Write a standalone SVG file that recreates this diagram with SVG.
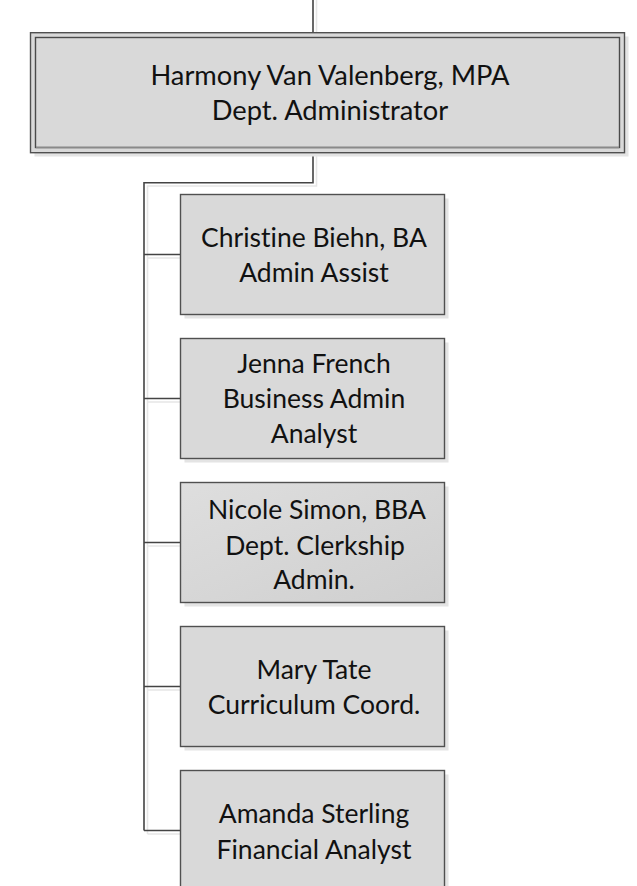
<svg xmlns="http://www.w3.org/2000/svg" width="637" height="886" viewBox="0 0 637 886">
<defs>
<linearGradient id="g1" x1="0" y1="0" x2="1" y2="1">
<stop offset="0" stop-color="#dedede"/>
<stop offset="1" stop-color="#cfcfcf"/>
</linearGradient>
</defs>
<style>
.bg{fill:#ffffff}
.sh{fill:#e4e4e4}
.box{fill:#d9d9d9;stroke:#505050;stroke-width:1.4}
.in{fill:#d9d9d9;stroke:#4a4a4a;stroke-width:1.4}
.ln{fill:none;stroke:#444444;stroke-width:1.6}
.lsh{fill:none;stroke:#e6e6e6;stroke-width:1.6}
.t{font-family:Lato,"Open Sans","Liberation Sans",sans-serif;font-size:26.5px;fill:#111111;text-anchor:middle;font-variant-ligatures:none}
.tt{font-size:27.3px}
</style>
<rect class="bg" x="0" y="0" width="637" height="886"/>
<g id="connectors">
<path class="lsh" d="M316.5,0 V33 M316.5,156 V186 H147.5 V834 M147.5,258 H184 M147.5,402 H184 M147.5,546 H184 M147.5,690 H184 M147.5,834 H184"/>
<path class="ln" d="M313,0 V33 M313,153 V182.7 H144 V830.5 M144,254.5 H181 M144,398.5 H181 M144,542.5 H181 M144,686.5 H181 M144,830.5 H181"/>
</g>
<g id="n0">
<rect class="sh" x="34.5" y="36.5" width="594" height="120"/>
<rect class="box" x="30.5" y="32.7" width="594" height="120"/>
<rect class="in" x="35.5" y="37.5" width="584" height="110"/>
<line x1="36" y1="147.5" x2="619" y2="147.5" stroke="#8a8a8a" stroke-width="1.4"/>
<text class="t tt" x="330" y="84.5">Harmony Van Valenberg, MPA</text>
<text class="t tt" x="330" y="119.5">Dept. Administrator</text>
</g>
<g id="n1">
<rect class="sh" x="184.5" y="198.5" width="264" height="120"/>
<rect class="box" x="180.5" y="194.5" width="264" height="120"/>
<text class="t" x="314" y="246.5">Christine Biehn, BA</text>
<text class="t" x="314" y="281.5">Admin Assist</text>
</g>
<g id="n2">
<rect class="sh" x="184.5" y="342.5" width="264" height="120"/>
<rect class="box" x="180.5" y="338.5" width="264" height="120"/>
<text class="t" x="314" y="373.3">Jenna French</text>
<text class="t" x="314" y="408.3">Business Admin</text>
<text class="t" x="314" y="443.3">Analyst</text>
</g>
<g id="n3">
<rect class="sh" x="184.5" y="486.5" width="264" height="120"/>
<rect class="box" x="180.5" y="482.5" width="264" height="120" style="fill:url(#g1)"/>
<text class="t" x="317" y="519">Nicole Simon, BBA</text>
<text class="t" x="315" y="554.5">Dept. Clerkship</text>
<text class="t" x="314" y="589">Admin.</text>
</g>
<g id="n4">
<rect class="sh" x="184.5" y="630.5" width="264" height="120"/>
<rect class="box" x="180.5" y="626.5" width="264" height="120"/>
<text class="t" x="314" y="679">Mary Tate</text>
<text class="t" x="314" y="714">Curriculum Coord.</text>
</g>
<g id="n5">
<rect class="sh" x="184.5" y="774.5" width="264" height="120"/>
<rect class="box" x="180.5" y="770.5" width="264" height="120"/>
<text class="t" x="314" y="823">Amanda Sterling</text>
<text class="t" x="314" y="858.5">Financial Analyst</text>
</g>
</svg>
